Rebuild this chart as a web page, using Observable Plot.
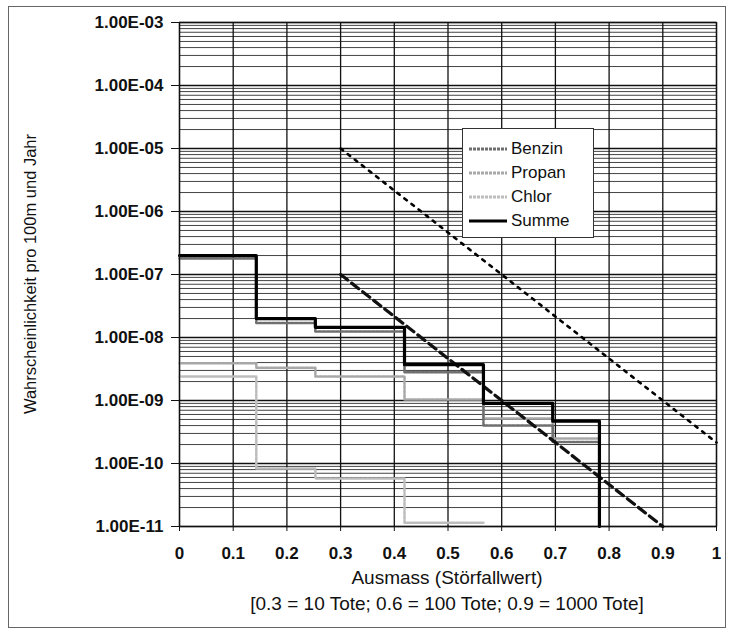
<!DOCTYPE html>
<html>
<head>
<meta charset="utf-8">
<script src="https://cdn.jsdelivr.net/npm/d3@7"></script>
<script src="https://cdn.jsdelivr.net/npm/@observablehq/plot@0.6"></script>
<style>
  body { margin: 0; background: #fff; font-family: "Liberation Sans", Arial, sans-serif; }
  #wrap { position: relative; width: 731px; height: 634px; }
  #border { position: absolute; left: 8px; top: 6px; width: 718px; height: 622px; border: 1.5px solid #666; box-sizing: border-box; pointer-events: none; }
  .ttl { position: absolute; font-size: 19px; color: #111; white-space: nowrap; }
  #ytitle { left: 30px; top: 274px; transform: translate(-50%, -50%) rotate(-90deg); font-size: 16.5px; }
  #xtitle1 { left: 447px; top: 578px; transform: translate(-50%, -50%); }
  #xtitle2 { left: 447px; top: 604px; transform: translate(-50%, -50%); }
  #legend { position: absolute; left: 462px; top: 128px; width: 132px; height: 110px; background: #fff; border: 1px solid #333; box-sizing: border-box; padding-top: 8px; }
  .li { display: flex; align-items: center; height: 24px; font-size: 17px; color: #111; }
  .li svg { margin-left: 6px; margin-right: 4px; }
</style>
</head>
<body>
<div id="wrap">
  <div id="chart"></div>
  <div id="border"></div>
  <div id="ytitle" class="ttl">Wahrscheinlichkeit pro 100m und Jahr</div>
  <div id="xtitle1" class="ttl">Ausmass (Störfallwert)</div>
  <div id="xtitle2" class="ttl">[0.3 = 10 Tote; 0.6 = 100 Tote; 0.9 = 1000 Tote]</div>
  <div id="legend"></div>
</div>
<script>
// ---- data ----
const xSteps = [0, 0.143, 0.253, 0.419, 0.566, 0.695, 0.782];
const summe  = [2e-7, 2e-8, 1.45e-8, 3.7e-9, 9e-10, 4.7e-10];
const summeDrop = 1e-11;
const benzin = [1.8e-7, 1.7e-8, 1.25e-8, 2.8e-9, 4e-10, 2.2e-10];
const propan = [3.9e-9, 3.3e-9, 2.4e-9, 1.04e-9, 5.2e-10, 2.5e-10];
const chlor  = [2.4e-9, 8.3e-11, 5.8e-11, 1.15e-11];

const upperLimitX = [0.3, 1.0];
const upperLimitY = [1e-5, 2.15e-10];
const lowerLimitX = [0.3, 0.9];
const lowerLimitY = [1e-7, 1e-11];

const xTicks = [0, 0.1, 0.2, 0.3, 0.4, 0.5, 0.6, 0.7, 0.8, 0.9, 1];
const xTickLabels = ["0", "0.1", "0.2", "0.3", "0.4", "0.5", "0.6", "0.7", "0.8", "0.9", "1"];
const yDecades = [1e-3, 1e-4, 1e-5, 1e-6, 1e-7, 1e-8, 1e-9, 1e-10, 1e-11];
const yTickLabels = ["1.00E-03", "1.00E-04", "1.00E-05", "1.00E-06", "1.00E-07", "1.00E-08", "1.00E-09", "1.00E-10", "1.00E-11"];
const minorFactors = [2, 3, 4, 5, 6, 7, 8, 9];

const seriesNames = ["Benzin", "Propan", "Chlor", "Summe"];
const seriesColors = ["#6f6f6f", "#a8a8a8", "#bdbdbd", "#000"];

// ---- build tables ----
function stepPoints(vals, extra) {
  const pts = vals.map((v, i) => ({x: xSteps[i], y: v}));
  pts.push({x: xSteps[vals.length], y: vals[vals.length - 1]});
  if (extra !== undefined) pts.push({x: xSteps[vals.length], y: extra});
  return pts;
}
const minorGrid = [];
yDecades.slice(1).forEach(d => minorFactors.forEach(f => minorGrid.push(d * f)));
const upperLine = upperLimitX.map((x, i) => ({x, y: upperLimitY[i]}));
const lowerLine = lowerLimitX.map((x, i) => ({x, y: lowerLimitY[i]}));
const xLabelMap = new Map(xTicks.map((t, i) => [t, xTickLabels[i]]));
const yLabelMap = new Map(yDecades.map((t, i) => [t, yTickLabels[i]]));

const chart = Plot.plot({
  width: 731,
  height: 634,
  marginLeft: 179,
  marginRight: 15,
  marginTop: 22,
  marginBottom: 108,
  style: {fontFamily: "Liberation Sans, Arial, sans-serif", fontSize: "17px", color: "#111", background: "#fff"},
  x: {domain: [0, 1]},
  y: {type: "log", domain: [1e-11, 1e-3]},
  marks: [
    Plot.ruleY(minorGrid, {stroke: "#444", strokeWidth: 1}),
    Plot.ruleY(yDecades, {stroke: "#111", strokeWidth: 1.6}),
    Plot.ruleX(xTicks, {stroke: "#111", strokeWidth: 1.3}),
    Plot.line(stepPoints(chlor), {x: "x", y: "y", curve: "step-after", stroke: seriesColors[2], strokeWidth: 2.5, strokeDasharray: "3,1.5"}),
    Plot.line(stepPoints(propan), {x: "x", y: "y", curve: "step-after", stroke: seriesColors[1], strokeWidth: 2.5, strokeDasharray: "3,1.5"}),
    Plot.line(stepPoints(benzin), {x: "x", y: "y", curve: "step-after", stroke: seriesColors[0], strokeWidth: 2.5, strokeDasharray: "3,1.5"}),
    Plot.line(upperLine, {x: "x", y: "y", stroke: "#000", strokeWidth: 2.6, strokeDasharray: "3,6"}),
    Plot.line(lowerLine, {x: "x", y: "y", stroke: "#111", strokeWidth: 3.2, strokeDasharray: "9,5"}),
    Plot.line(stepPoints(summe, summeDrop), {x: "x", y: "y", curve: "step-after", stroke: seriesColors[3], strokeWidth: 3.2}),
    Plot.frame({stroke: "#111", strokeWidth: 1.3}),
    Plot.axisY(yDecades, {tickSize: 8, tickPadding: 8, tickFormat: d => yLabelMap.get(d), fontWeight: "bold", fontSize: 17, label: null}),
    Plot.axisX(xTicks, {tickSize: 5, tickPadding: 15, tickFormat: d => xLabelMap.get(d), fontWeight: "bold", fontSize: 17, label: null})
  ]
});
document.getElementById("chart").appendChild(chart);

// legend
const leg = document.getElementById("legend");
seriesNames.forEach((name, i) => {
  const row = document.createElement("div");
  row.className = "li";
  const isSum = name === "Summe";
  row.innerHTML = `<svg width="38" height="10"><line x1="0" x2="38" y1="5" y2="5" stroke="${seriesColors[i]}" stroke-width="3" ${isSum ? "" : 'stroke-dasharray="3,1"'}/></svg><span>${name}</span>`;
  leg.appendChild(row);
});
</script>
</body>
</html>
